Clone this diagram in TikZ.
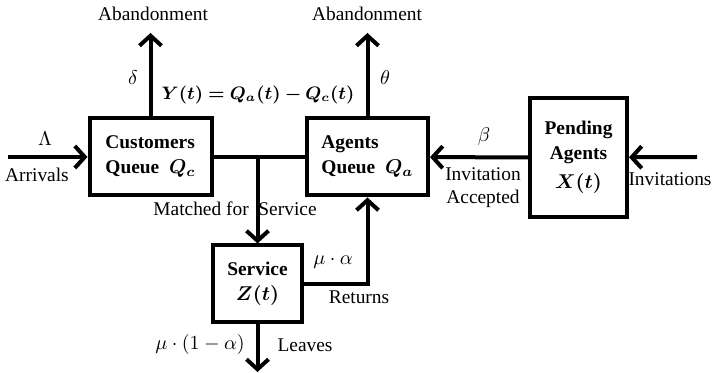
\documentclass[tikz,border=0pt]{standalone}
\usepackage{fontspec}
\usepackage{bm}
\setmainfont{Liberation Serif}
\usetikzlibrary{arrows.meta,positioning}

\begin{document}
\begin{tikzpicture}[x=0.5pt,y=-0.5pt,font=\fontsize{9.7}{11.4}\selectfont,
  box/.style={draw,line width=2pt,align=left,font=\fontsize{9.7}{12.5}\selectfont\bfseries,inner sep=0pt},
  flow/.style={line width=2pt,-{Straight Barb[length=5pt,width=11pt,line width=2pt]}},
  lbl/.style={inner sep=0pt}]
\useasboundingbox (0,0) rectangle (713,373);
\node[box,minimum width=61pt,minimum height=38.5pt](cust) at (150.5,157){Customers\\Queue~~$\bm{Q_c}$};
\node[box,minimum width=60.5pt,minimum height=38.5pt](agt) at (367.5,157){Agents\\Queue~~$\bm{Q_a}$};
\node[box,align=center,minimum width=48.5pt,minimum height=59.5pt](pend) at (578.5,157.5){Pending\\Agents\\[2pt]$\bm{X(t)}$};
\node[box,align=center,minimum width=44.5pt,minimum height=38.5pt](serv) at (257.5,284){Service\\$\bm{Z(t)}$};
% free ends
\coordinate (in) at (8,157);
\coordinate (inv) at (697,157);
\coordinate (ab1) at (cust.north|-0,33);
\coordinate (ab2) at (agt.north|-0,33);
\coordinate (out) at (serv.south|-0,372);
\coordinate (m) at (serv.north|-cust.east);
\draw[flow](in)--(cust);
\draw[flow](cust)--(ab1);
\draw[flow](agt)--(ab2);
\draw[line width=2pt](cust)--(agt);
\draw[flow](m)--(serv);
\draw[flow](pend)--(agt);
\draw[flow](inv)--(pend);
\draw[flow](serv.east)-|(agt.south);
\draw[flow](serv)--(out);
% labels
\node[lbl](t1) at (153,14){Abandonment};
\node[lbl](t2) at (367,14){Abandonment};
\node[lbl](d) at (133,78){$\delta$};
\node[lbl](th) at (385,78){$\theta$};
\node[lbl,font=\fontsize{8.6}{10}\selectfont](y) at (258,95){$\bm{Y(t)=Q_a(t)-Q_c(t)}$};
\node[lbl](lam) at (45,139){$\Lambda$};
\node[lbl](arr) at (37,175){Arrivals};
\node[lbl](mfs) at (235,209){Matched for~~Service};
\node[lbl](b) at (484,137){$\beta$};
\node[lbl,align=center](ia) at (483,188){Invitation\\Accepted};
\node[lbl](ivs) at (670,179){Invitations};
\node[lbl](ma) at (333,262){$\mu\cdot\alpha$};
\node[lbl](ret) at (359,297){Returns};
\node[lbl](ml) at (200,345){$\mu\cdot(1-\alpha)$};
\node[lbl](lv) at (305,345){Leaves};
\end{tikzpicture}
\end{document}
